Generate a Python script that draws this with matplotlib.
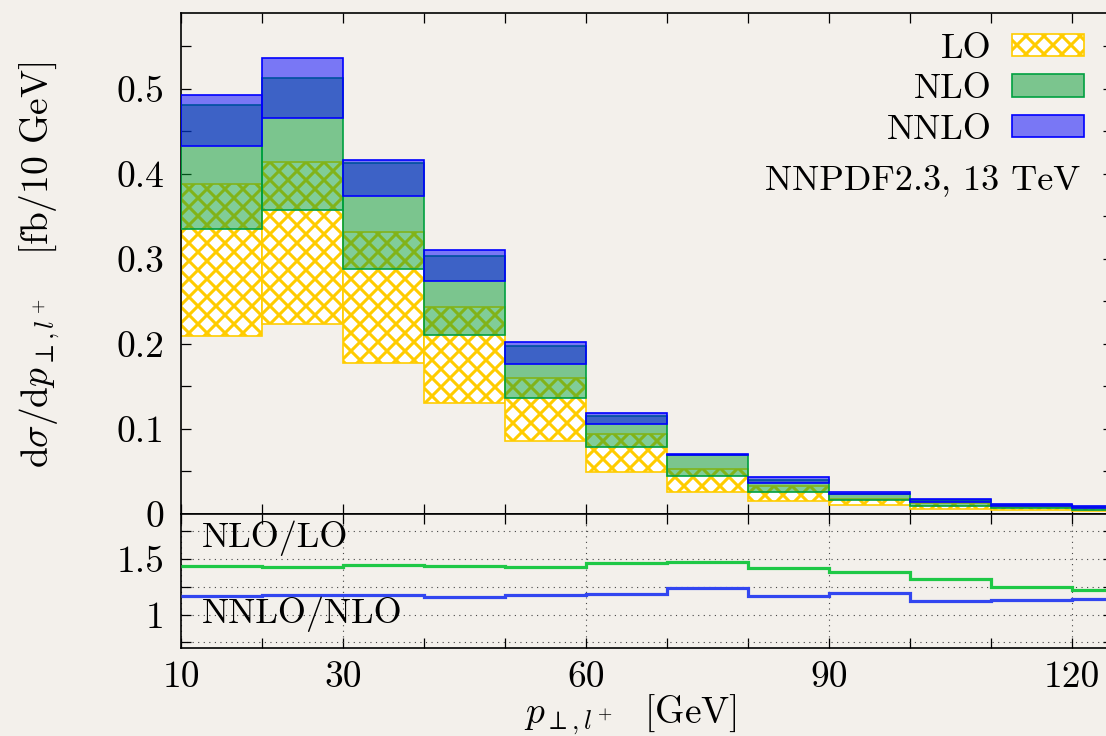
import numpy as np
import matplotlib
matplotlib.use('Agg')
import matplotlib.pyplot as plt
from matplotlib.patches import Patch
from matplotlib.ticker import MultipleLocator, FixedLocator, FixedFormatter, FuncFormatter

# dpi picked so the 'xx' hatch gets the ~9 px diamond spacing of the original,
# every size below is given as if dpi were 100 and scaled with S
DPI = 108
S = 100.0 / DPI

# fonts: computer modern look
plt.rcParams['font.family'] = 'serif'
plt.rcParams['font.serif'] = ['cmr10']
plt.rcParams['mathtext.fontset'] = 'cm'
plt.rcParams['axes.formatter.use_mathtext'] = True
plt.rcParams['hatch.linewidth'] = 2.2 * S


######################################################################
# data
######################################################################
bin_edges = [10, 20, 30, 40, 50, 60, 70, 80, 90, 100, 110, 120, 130]

lo_low  = [0.209, 0.223, 0.178, 0.130, 0.0857, 0.0489, 0.0263, 0.0157, 0.0106, 0.0063, 0.0047, 0.0035]
lo_high = [0.388, 0.414, 0.332, 0.244, 0.1604, 0.0939, 0.0526, 0.0330, 0.0173, 0.0130, 0.0085, 0.0065]

nlo_low  = [0.335, 0.358, 0.288, 0.210, 0.1365, 0.0790, 0.0447, 0.0263, 0.0161, 0.0098, 0.0068, 0.0050]
nlo_high = [0.481, 0.513, 0.413, 0.303, 0.1980, 0.1158, 0.0698, 0.0400, 0.0240, 0.0160, 0.0110, 0.0080]

nnlo_low  = [0.433, 0.466, 0.374, 0.274, 0.1768, 0.1053, 0.0693, 0.0361, 0.0238, 0.0145, 0.0094, 0.0065]
nnlo_high = [0.493, 0.536, 0.416, 0.311, 0.2022, 0.1193, 0.0708, 0.0431, 0.0255, 0.0172, 0.0121, 0.0090]

ratio_nlo_lo   = [1.435, 1.423, 1.444, 1.435, 1.429, 1.458, 1.470, 1.417, 1.384, 1.315, 1.250, 1.217]
ratio_nnlo_nlo = [1.163, 1.173, 1.173, 1.158, 1.176, 1.188, 1.241, 1.163, 1.190, 1.119, 1.134, 1.143]

x_ticklabels = ['10', '30', '60', '90', '120']
x_tickvals = [10, 30, 60, 90, 120]


######################################################################
# colours
######################################################################
bg = '#f3f0eb'
yellow = '#ffcc00'
green_face = (0.02, 0.61, 0.20, 0.5)
green_edge = '#00a040'
blue_face = (0.0, 0.0, 1.0, 0.5)
blue_edge = '#0000ff'
green_line = '#1ec846'
blue_line = '#3246f0'

FS = 27 * S
FS_TXT = 26 * S
LW = 1.2 * S

W, H = 1106, 736
fig = plt.figure(figsize=(W / DPI, H / DPI), dpi=DPI, facecolor=bg)

left = 181 / W
width = 931.5 / W
ax = fig.add_axes([left, (H - 514) / H, width, 500.7 / H])
ax2 = fig.add_axes([left, (H - 648) / H, width, 134 / H], sharex=ax)
for a in (ax, ax2):
    a.set_facecolor(bg)
    for s in a.spines.values():
        s.set_linewidth(1.2 * S)
    a.tick_params(which='both', direction='in', top=True, right=True,
                  length=7 * S, width=0.9 * S, labelsize=FS)

edges = np.array(bin_edges)
lefts = edges[:-1]
widths = np.diff(edges)

# ------------------- main panel -------------------
lo_l, lo_h = np.array(lo_low), np.array(lo_high)
nlo_l, nlo_h = np.array(nlo_low), np.array(nlo_high)
nnlo_l, nnlo_h = np.array(nnlo_low), np.array(nnlo_high)

ax.bar(lefts, lo_h - lo_l, width=widths, bottom=lo_l, align='edge',
       facecolor='white', edgecolor=yellow, hatch='xx', linewidth=LW, zorder=2)
ax.bar(lefts, nlo_h - nlo_l, width=widths, bottom=nlo_l, align='edge',
       facecolor=green_face, edgecolor=green_edge, linewidth=LW, zorder=3)
ax.bar(lefts, nnlo_h - nnlo_l, width=widths, bottom=nnlo_l, align='edge',
       facecolor=blue_face, edgecolor=blue_edge, linewidth=LW, zorder=4)

ax.set_xlim(10, 125)
ax.set_ylim(0, 0.589)
ax.yaxis.set_major_locator(MultipleLocator(0.1))
ax.yaxis.set_minor_locator(MultipleLocator(0.05))
ax.yaxis.set_major_formatter(FuncFormatter(lambda v, p: '0' if abs(v) < 1e-9 else '%.1f' % v))
ax.tick_params(axis='y', which='both', pad=12 * S)
ax.xaxis.set_major_locator(MultipleLocator(10))
ax.tick_params(axis='x', labelbottom=False)

handles = [Patch(facecolor='white', edgecolor=yellow, hatch='xx', linewidth=LW),
           Patch(facecolor=green_face, edgecolor=green_edge, linewidth=LW),
           Patch(facecolor=blue_face, edgecolor=blue_edge, linewidth=LW)]
leg = ax.legend(handles, ['LO', 'NLO', 'NNLO'], loc='upper right',
                bbox_to_anchor=(1084 / W, 1 - 33 / H), bbox_transform=fig.transFigure,
                frameon=False, markerfirst=False, fontsize=FS_TXT,
                handlelength=2.0, handleheight=0.58, handletextpad=0.55,
                labelspacing=0.25, borderpad=0, borderaxespad=0)

ax.text(121, 0.393, 'NNPDF2.3, 13 TeV', ha='right', va='center', fontsize=FS_TXT)

# ------------------- ratio panel -------------------
ax2.stairs(ratio_nlo_lo, edges, baseline=None, color=green_line, linewidth=2.3 * S, zorder=3)
ax2.stairs(ratio_nnlo_nlo, edges, baseline=None, color=blue_line, linewidth=2.3 * S, zorder=3)
ax2.set_ylim(0.70, 1.90)
ax2.yaxis.set_major_locator(FixedLocator([0.75, 1.0, 1.25, 1.5, 1.75]))
ax2.yaxis.set_major_formatter(FixedFormatter(['', '1', '', '1.5', '']))
ax2.tick_params(axis='y', pad=12 * S)
ax2.xaxis.set_major_locator(FixedLocator(x_tickvals))
ax2.xaxis.set_major_formatter(FixedFormatter(x_ticklabels))
ax2.xaxis.set_minor_locator(MultipleLocator(10))
ax2.tick_params(axis='x', which='both', pad=9 * S)
ax2.grid(True, which='major', color='#444444', linestyle=(0, (1, 4)), linewidth=0.8 * S)

ax2.text(12.6, 1.68, 'NLO/LO', ha='left', va='center', fontsize=FS_TXT)
ax2.text(12.6, 1.0, 'NNLO/NLO', ha='left', va='center', fontsize=FS_TXT)

fig.text(630 / W, 1 - 715 / H, r'$p_{\perp,l^+}$  [GeV]', ha='center', va='center', fontsize=FS)
fig.text(40 / W, 1 - 265 / H, r'$\mathrm{d}\sigma/\mathrm{d}p_{\perp,l^+}$   [fb/10 GeV]',
         ha='center', va='center', rotation=90, fontsize=FS)

fig.savefig('out.png', dpi=DPI, facecolor=bg)
